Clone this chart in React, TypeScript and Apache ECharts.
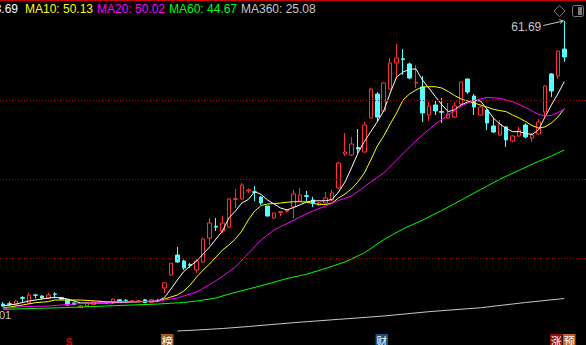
import React, { useEffect, useRef } from "react";
import * as echarts from "echarts";

// ---- candle data (open, close, low, high) ----
const opens = [
  24.35, 24.4, 24.22, 25.2, 24.49, 25.55, 25.41, 25.14, 25.68, 25.2,
  24.88, 24.5, 23.9, 24.1, 24.3, 24.6, 24.6, 24.5, 24.9, 24.85,
  24.7, 24.7, 24.9, 24.55, 24.85, 26.46, 28.18, 30.82, 30.03, 29.55,
  28.84, 29.9, 33.06, 34.6, 33.98, 34.51, 38.15, 38.21, 39.26, 39.15,
  38.47, 37.28, 35.7, 36.45, 36.6, 37.15, 37.94, 38.65, 38.08, 37.42,
  37.68, 38.08, 39.66, 44.14, 44.01, 45.0, 44.41, 48.89, 52.06, 49.82,
  52.72, 56.15, 56.72, 56.02, 53.5, 52.98, 49.29, 50.61, 49.75, 48.89,
  49.02, 50.74, 54.04, 51.79, 49.29, 49.95, 47.84, 46.65, 47.71, 45.86,
  46.52, 47.97, 46.25, 46.78, 49.68, 54.7, 54.43, 57.99,
];
const closes = [
  24.09, 24.3, 24.75, 25.1, 25.54, 25.5, 25.14, 25.54, 25.62, 25.0,
  24.22, 24.3, 24.1, 24.5, 24.6, 24.65, 24.55, 25.0, 24.7, 24.8,
  24.8, 24.8, 24.55, 24.9, 24.8, 27.13, 29.76, 29.9, 29.1, 29.45,
  30.03, 32.94, 35.04, 34.5, 35.04, 38.21, 38.25, 40.05, 39.4, 39.1,
  37.68, 35.96, 36.36, 36.55, 36.75, 38.87, 38.74, 38.55, 37.68, 37.68,
  38.34, 39.0, 42.96, 44.41, 45.46, 44.8, 47.97, 52.72, 49.02, 53.51,
  56.15, 56.81, 56.6, 54.17, 53.6, 49.55, 50.48, 49.82, 49.65, 49.42,
  50.48, 53.64, 52.32, 50.34, 50.34, 48.23, 47.05, 48.1, 46.0, 46.52,
  47.31, 46.39, 46.65, 48.37, 53.11, 52.45, 57.73, 56.94,
];
const lows = [
  23.97, 24.1, 24.1, 24.5, 24.4, 25.1, 25.0, 25.0, 25.1, 24.9,
  24.1, 24.2, 23.8, 24.0, 24.2, 24.5, 24.4, 24.4, 24.6, 24.6,
  24.6, 24.6, 24.5, 24.5, 24.6, 25.81, 28.05, 29.76, 28.84, 29.1,
  28.44, 29.8, 32.14, 33.98, 33.72, 34.4, 37.02, 38.1, 39.0, 37.94,
  37.42, 35.9, 35.6, 35.96, 36.4, 35.7, 37.8, 37.94, 37.15, 37.3,
  37.6, 37.9, 39.5, 43.88, 43.9, 44.27, 44.3, 48.8, 48.37, 49.7,
  52.6, 54.3, 54.57, 54.0, 52.85, 48.37, 48.5, 49.29, 48.23, 48.8,
  48.9, 50.6, 52.06, 49.29, 49.2, 47.31, 46.9, 46.5, 45.07, 45.7,
  46.4, 46.2, 45.73, 46.7, 49.02, 51.66, 54.04, 56.28,
];
const highs = [
  24.62, 24.7, 24.9, 25.4, 25.85, 25.7, 25.5, 25.85, 25.9, 25.3,
  24.9, 24.6, 24.2, 24.6, 24.7, 24.8, 24.7, 25.1, 25.0, 25.0,
  24.9, 24.9, 25.0, 25.0, 25.0, 27.2, 29.8, 31.87, 30.2, 29.76,
  30.29, 33.1, 35.7, 35.7, 35.96, 38.3, 39.53, 40.32, 39.6, 39.92,
  38.6, 37.3, 36.4, 36.6, 36.9, 39.39, 39.66, 39.26, 38.5, 37.8,
  39.13, 39.4, 43.1, 46.91, 46.39, 47.44, 48.37, 52.9, 52.3, 53.6,
  56.81, 58.66, 57.99, 56.2, 55.89, 54.43, 51.0, 51.14, 51.53, 50.87,
  51.0, 53.7, 54.1, 52.06, 50.5, 50.0, 48.89, 48.63, 47.8, 46.6,
  47.71, 48.2, 46.91, 48.76, 53.2, 54.8, 57.8, 61.69,
];

// ---- moving averages: [candle index, value] ----
const ma5 = [
  [0, 24.09], [2, 24.35], [4, 24.75], [6, 25.01], [8, 25.24], [10, 25.01], [12, 24.49],
  [14, 24.49], [16, 24.49], [18, 24.55], [20, 24.62], [22, 24.69], [24, 24.75], [25, 25.19],
  [26, 26.33], [27, 27.52], [28, 28.64], [29, 29.37], [30, 30.03], [31, 30.95], [32, 31.87],
  [33, 32.93], [34, 33.98], [35, 35.7], [36, 36.62], [37, 37.68], [38, 38.14], [39, 39.17],
  [40, 38.8], [41, 38.07], [42, 37.55], [43, 37.02], [44, 36.76], [45, 37.08], [46, 37.42],
  [47, 37.81], [48, 37.97], [49, 37.97], [50, 37.97], [51, 38.14], [52, 39.13], [53, 40.45],
  [54, 42.3], [55, 44.27], [56, 45.78], [57, 47.1], [58, 48.39], [59, 49.83], [60, 52.19],
  [61, 54.3], [62, 54.96], [63, 55.32], [64, 55.36], [65, 53.91], [66, 52.85], [67, 51.73],
  [68, 50.67], [69, 49.72], [70, 49.99], [71, 50.61], [72, 51.0], [73, 51.23], [74, 51.14],
  [75, 50.08], [76, 48.89], [77, 48.1], [78, 47.51], [79, 47.09], [80, 47.09], [81, 46.87],
  [82, 46.72], [83, 47.31], [84, 49.02], [85, 50.61], [86, 52.06], [87, 53.69],
];
const ma10 = [
  [0, 23.83], [3, 24.22], [5, 24.53], [7, 24.66], [8, 24.88], [12, 24.88], [16, 24.66],
  [22, 24.66], [24, 24.69], [25, 25.01], [26, 25.28], [27, 25.54], [28, 26.07], [29, 26.86],
  [30, 27.92], [31, 28.84], [32, 29.63], [33, 30.56], [34, 31.48], [35, 32.14], [36, 32.93],
  [37, 33.98], [38, 35.44], [39, 36.62], [40, 37.35], [41, 37.55], [42, 37.61], [43, 37.68],
  [44, 37.77], [45, 37.85], [46, 37.85], [47, 37.81], [48, 37.61], [49, 37.51], [50, 37.48],
  [51, 37.68], [52, 38.34], [53, 38.87], [54, 39.53], [55, 40.45], [56, 41.64], [57, 43.35],
  [58, 45.2], [59, 46.52], [60, 48.1], [61, 49.55], [62, 51.27], [63, 52.06], [64, 52.59],
  [65, 52.98], [66, 53.02], [67, 53.02], [68, 52.85], [69, 52.39], [70, 51.86], [71, 51.4],
  [72, 51.14], [73, 50.87], [74, 50.61], [75, 50.34], [76, 50.04], [77, 49.88], [78, 49.72],
  [79, 49.29], [80, 48.89], [81, 48.43], [82, 47.9], [83, 47.57], [84, 47.71], [85, 48.23],
  [86, 49.02], [87, 50.13],
];
const ma20 = [
  [0, 23.76], [3, 24.0], [7, 24.09], [9, 24.22], [12, 24.42], [17, 24.62], [21, 24.66],
  [24, 24.75], [25, 24.88], [27, 25.14], [28, 25.41], [30, 25.94], [32, 26.9], [34, 28.0],
  [36, 29.23], [38, 31.04], [40, 32.8], [42, 34.12], [44, 34.97], [46, 35.83], [48, 36.62],
  [50, 37.28], [52, 38.01], [54, 38.6], [56, 39.8], [57, 40.45], [59, 41.64], [61, 43.35],
  [63, 45.07], [65, 46.65], [67, 48.1], [69, 49.29], [71, 50.48], [73, 51.2], [75, 51.6],
  [77, 51.49], [79, 51.04], [81, 50.28], [83, 49.36], [84, 49.16], [85, 49.23], [86, 49.62],
  [87, 50.02],
];
const ma60 = [
  [0, 23.65], [10, 23.89], [16, 24.09], [20, 24.22], [24, 24.35], [26, 24.45], [28, 24.55],
  [30, 24.75], [33, 25.14], [35, 25.67], [38, 26.33], [41, 26.99], [44, 27.72], [47, 28.27],
  [50, 29.05], [53, 29.9], [56, 31.1], [59, 32.84], [62, 34.27], [65, 35.41], [68, 36.69],
  [71, 38.06], [74, 39.44], [77, 40.81], [80, 42.0], [83, 43.16], [85, 43.88], [87, 44.67],
];
const ma360 = [
  [27, 20.79], [30, 20.92], [34, 21.12], [38, 21.38], [45, 21.89], [52, 22.33], [59, 22.77],
  [66, 23.34], [74, 23.86], [81, 24.55], [87, 25.08],
];

const gridLevels = [30.42, 40.85, 51.27];
const priceMin = 20;
const priceMax = 61.69;
const days = opens.map((_, i) => String(i + 1));

const FONT = "Liberation Sans, Arial, sans-serif";
const CJK = "Noto Sans CJK SC, sans-serif";

export default function App() {
  const ref = useRef<HTMLDivElement>(null);

  useEffect(() => {
    const chart = echarts.init(ref.current as HTMLDivElement, null, { renderer: "svg" });
    const candleData = opens.map((o, i) => [o, closes[i], lows[i], highs[i]]);
    const lastVal = (a: number[][]) => a[a.length - 1][1];
    const lineSeries = (name: string, data: number[][], color: string) => ({
      type: "line",
      name,
      data,
      xAxisIndex: 0,
      yAxisIndex: 0,
      symbol: "none",
      connectNulls: true,
      silent: true,
      lineStyle: { color, width: 1 },
      itemStyle: { color },
      z: 3,
    });

    chart.setOption({
      animation: false,
      backgroundColor: "#000",
      grid: [
        { left: -2.7, top: 21, width: 570.2, height: 316 },
        { left: 0, right: 0, top: 21, height: 316 },
      ],
      xAxis: [
        { type: "category", data: days, boundaryGap: true, show: false, gridIndex: 0 },
        { type: "value", min: 0, max: 1, show: false, gridIndex: 1 },
      ],
      yAxis: [
        { type: "value", min: priceMin, max: priceMax, show: false, gridIndex: 0 },
        { type: "value", min: priceMin, max: priceMax, show: false, gridIndex: 1 },
      ],
      series: [
        {
          type: "line",
          xAxisIndex: 1,
          yAxisIndex: 1,
          data: [[0, priceMin]],
          symbol: "none",
          silent: true,
          lineStyle: { opacity: 0 },
          markLine: {
            silent: true,
            symbol: ["none", "none"],
            label: { show: false },
            lineStyle: { color: "#b00000", type: [1, 2], width: 1 },
            data: gridLevels.map((v) => ({ yAxis: v })),
          },
          z: 1,
        },
        {
          type: "candlestick",
          xAxisIndex: 0,
          yAxisIndex: 0,
          data: candleData,
          barWidth: 4,
          silent: true,
          itemStyle: {
            color: "#000",
            color0: "#54ffff",
            borderColor: "#ff3232",
            borderColor0: "#54ffff",
            borderWidth: 1,
          },
          z: 2,
        },
        lineSeries("MA5", ma5, "#ffffff"),
        lineSeries("MA10", ma10, "#ffff00"),
        lineSeries("MA20", ma20, "#ff00ff"),
        lineSeries("MA60", ma60, "#00ff00"),
        lineSeries("MA360", ma360, "#c8c8c8"),
      ],
    });

    // max marker position from the axes
    let maxIdx = 0;
    highs.forEach((h, i) => {
      if (h > highs[maxIdx]) maxIdx = i;
    });
    const pt = chart.convertToPixel({ xAxisIndex: 0, yAxisIndex: 0 }, [maxIdx, highs[maxIdx]]) as number[];

    const legend = [
      { text: `MA5: ${lastVal(ma5).toFixed(2)}`, x: 18, align: "right", color: "#ffffff" },
      { text: `MA10: ${lastVal(ma10).toFixed(2)}`, x: 25, align: "left", color: "#ffff00" },
      { text: `MA20: ${lastVal(ma20).toFixed(2)}`, x: 97, align: "left", color: "#ff00ff" },
      { text: `MA60: ${lastVal(ma60).toFixed(2)}`, x: 169, align: "left", color: "#00ff00" },
      { text: `MA360: ${lastVal(ma360).toFixed(2)}`, x: 241, align: "left", color: "#c8c8c8" },
    ];

    const badge = (x: number, ch: string, bg: string) => ({
      type: "group",
      children: [
        { type: "rect", shape: { x, y: 334, width: 12.5, height: 13 }, style: { fill: bg } },
        {
          type: "text",
          x: x + 6.25,
          y: 341,
          style: { text: ch, fill: "#ffffff", font: `11px ${CJK}`, textAlign: "center", textVerticalAlign: "middle" },
        },
      ],
    });

    chart.setOption({
      graphic: [
        { type: "rect", shape: { x: 0, y: 0, width: 586, height: 1 }, style: { fill: "#c80000" } },
        ...legend.map((l) => ({
          type: "text",
          x: l.x,
          y: 9,
          style: { text: l.text, fill: l.color, font: `12px ${FONT}`, textAlign: l.align, textVerticalAlign: "middle" },
        })),
        {
          type: "polygon",
          shape: { points: [[559.5, 5.5], [565, 11], [559.5, 16.5], [554, 11]] },
          style: { fill: "none", stroke: "#7a7a7a", lineWidth: 1 },
        },
        {
          type: "rect",
          shape: { x: 572.5, y: 5.5, width: 11, height: 11, r: 2 },
          style: { fill: "none", stroke: "#7a7a7a", lineWidth: 1 },
        },
        { type: "rect", shape: { x: 578, y: 7, width: 4, height: 8 }, style: { fill: "#7a7a7a" } },
        {
          type: "text",
          x: pt[0] - 23,
          y: pt[1] + 5.5,
          style: {
            text: highs[maxIdx].toFixed(2),
            fill: "#c8c8c8",
            font: `12px ${FONT}`,
            textAlign: "right",
            textVerticalAlign: "middle",
          },
        },
        {
          type: "line",
          shape: { x1: pt[0] - 21, y1: pt[1] + 4.5, x2: pt[0] - 1, y2: pt[1] },
          style: { stroke: "#c8c8c8", lineWidth: 1 },
        },
        {
          type: "polyline",
          shape: { points: [[pt[0] - 5, pt[1] - 1.5], [pt[0] - 1, pt[1]], [pt[0] - 4, pt[1] + 2.5]] },
          style: { stroke: "#c8c8c8", lineWidth: 1, fill: "none" },
        },
        {
          type: "text",
          x: -1,
          y: 315,
          style: { text: "01", fill: "#c8c8c8", font: `11px ${FONT}`, textAlign: "left", textVerticalAlign: "middle" },
        },
        {
          type: "text",
          x: 69,
          y: 342,
          style: { text: "S", fill: "#e00000", font: `bold 10px ${FONT}`, textAlign: "center", textVerticalAlign: "middle" },
        },
        badge(161, "榜", "#9a5a28"),
        badge(375.5, "财", "#1f4f80"),
        badge(550, "涨", "#8b1010"),
        badge(563, "预", "#c0601a"),
      ],
    });

    return () => chart.dispose();
  }, []);

  return (
    <div
      ref={ref}
      style={{ position: "fixed", left: 0, top: 0, width: 586, height: 345, background: "#000" }}
    />
  );
}
